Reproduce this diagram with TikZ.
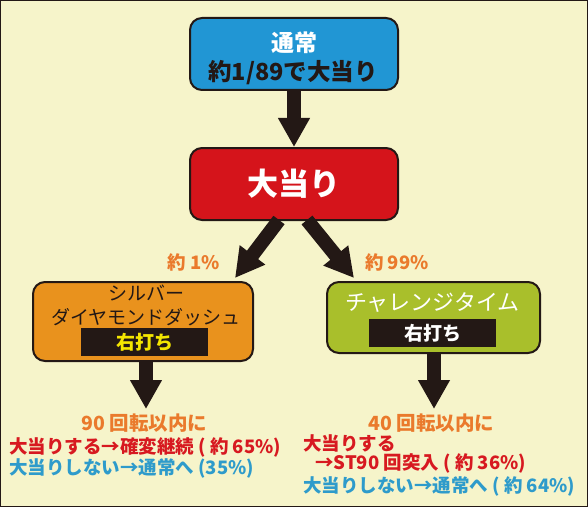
\documentclass[tikz,border=0pt]{standalone}
\usepackage{fontspec}
\setmainfont{Noto Sans CJK JP}
\usetikzlibrary{arrows.meta}

\definecolor{cream}{HTML}{F6F4CA}
\definecolor{normalblue}{HTML}{2196D4}
\definecolor{hitred}{HTML}{D5141B}
\definecolor{silverorange}{HTML}{E9921D}
\definecolor{challgreen}{HTML}{A9BF2B}
\definecolor{ink}{HTML}{231815}
\definecolor{txtred}{HTML}{D71920}
\definecolor{txtblue}{HTML}{2E9BCB}
\definecolor{txtorange}{HTML}{EA7A2C}
\definecolor{baryellow}{HTML}{F4E600}

\begin{document}
\begin{tikzpicture}[x=1pt, y=1pt,
  box/.style={draw=ink, line width=2pt, rounded corners=12pt, inner sep=0pt},
  bar/.style={fill=ink, inner sep=0pt, minimum width=127pt, minimum height=28pt},
  bigarrow/.style={draw=ink, line width=14pt, -{Triangle[width=30pt,length=29pt]}},
  txt/.style={inner sep=0pt, font=\fontsize{18.5}{21}\selectfont\bfseries}]

%% frame and background
\draw[fill=cream, draw=ink, line width=1.2pt](0.6,0.6) rectangle (587.4,506.4);

%% boxes
\node[box, fill=normalblue, minimum width=208pt, minimum height=72pt] (normal) at (294,453) {};
\node[box, fill=hitred, minimum width=208pt, minimum height=72pt] (hit) at (294,323) {};
\node[box, fill=silverorange, minimum width=220pt, minimum height=79pt] (silver) at (143,185.5) {};
\node[box, fill=challgreen, minimum width=213pt, minimum height=71pt] (chall) at (433.5,189.5) {};
\node[bar] (silverbar) at (144.5,165) {};
\node[bar] (challbar) at (432.5,174) {};

%% box texts
\node[inner sep=0pt, text=white, font=\fontsize{23}{26}\selectfont\bfseries] (normaltitle) at (294,464) {通常};
\node[inner sep=0pt, text=ink, font=\fontsize{23.5}{26}\selectfont\bfseries] (normalprob) at (293,434) {約1/89で大当り};
\node[inner sep=0pt, text=white, font=\fontsize{31}{34}\selectfont\bfseries] (hittitle) at (hit) {大当り};
\node[inner sep=0pt, text=ink, font=\fontsize{19}{22}\selectfont] (silvertop) at (146,214) {シルバー};
\node[inner sep=0pt, text=ink, font=\fontsize{19}{22}\selectfont] (silverbot) at (146,190) {ダイヤモンドダッシュ};
\node[inner sep=0pt, text=baryellow, font=\fontsize{19}{22}\selectfont\bfseries] (silverright) at (silverbar) {右打ち};
\node[inner sep=0pt, text=white, font=\fontsize{22}{25}\selectfont] (challtitle) at (432.5,204) {チャレンジタイム};
\node[inner sep=0pt, text=white, font=\fontsize{19}{22}\selectfont\bfseries] (challright) at (challbar) {右打ち};

%% arrows
\coordinate (leftfrom) at (279,287);
\coordinate (leftto) at (235,229);
\coordinate (rightfrom) at (307,287);
\coordinate (rightto) at (354,229);
\coordinate (silverto) at (146,98);
\coordinate (challto) at (434,98);
\draw[bigarrow](normal.south) -- (hit.north);
\draw[bigarrow](leftfrom) -- (leftto);
\draw[bigarrow](rightfrom) -- (rightto);
\draw[bigarrow](silverto |- silver.south) -- (silverto);
\draw[bigarrow](challto |- chall.south) -- (challto);

%% rates
\node[txt, text=txtorange, anchor=east] (leftrate) at (220,245) {約 1\%};
\node[txt, text=txtorange, anchor=west] (rightrate) at (365,245) {約 99\%};

%% outcomes
\node[txt, text=txtorange, font=\fontsize{19.5}{22}\selectfont\bfseries] (silverspins) at (144.5,84) {90 回転以内に};
\node[txt, text=txtred, anchor=west] (silverwin) at (9,60) {大当りする→確変継続 ( 約 65\%)};
\node[txt, text=txtblue, anchor=west] (silverlose) at (9,39) {大当りしない→通常へ (35\%)};
\node[txt, text=txtorange, font=\fontsize{19.5}{22}\selectfont\bfseries] (challspins) at (431.5,84) {40 回転以内に};
\node[txt, text=txtred, anchor=west] (challwin) at (303,64) {大当りする};
\node[txt, text=txtred, anchor=west] (challst) at (315,44) {→ST90 回突入 ( 約 36\%)};
\node[txt, text=txtblue, anchor=west] (challlose) at (303,21) {大当りしない→通常へ ( 約 64\%)};

\end{tikzpicture}
\end{document}
